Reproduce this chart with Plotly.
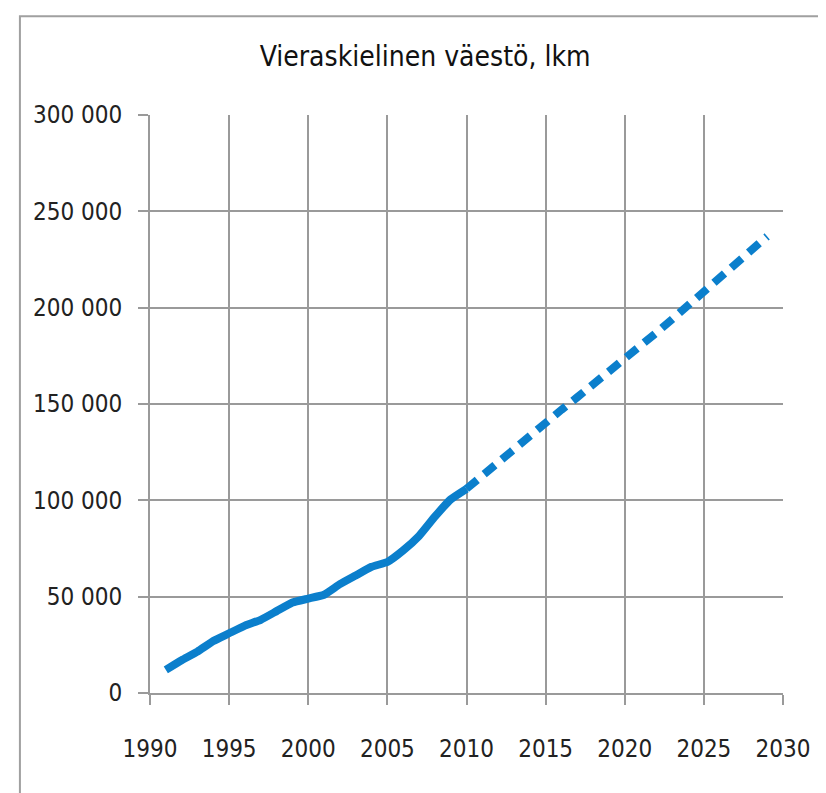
import plotly.graph_objects as go

# observed population (solid line)
years_obs = [1991, 1992, 1993, 1994, 1995, 1996, 1997, 1998, 1999, 2000,
             2001, 2002, 2003, 2004, 2005, 2006, 2007, 2008, 2009, 2010]
pop_obs = [12000, 17000, 21500, 27000, 31000, 35000, 38000, 42500, 47000, 49000,
           51000, 56500, 61000, 65500, 68000, 74000, 81500, 91500, 100500, 106000]

# projection (dashed line)
years_proj = [2010, 2011, 2012, 2013, 2014, 2015, 2016, 2017, 2018, 2019,
              2020, 2021, 2022, 2023, 2024, 2025, 2026, 2027, 2028, 2029]
pop_proj = [106000, 113000, 120000, 127000, 133500, 140000, 147000, 153500, 160000, 166500,
            173000, 180000, 187000, 194000, 201000, 208000, 215000, 222000, 229000, 237000]

x_ticks = [1990, 1995, 2000, 2005, 2010, 2015, 2020, 2025, 2030]
y_ticks = [0, 50000, 100000, 150000, 200000, 250000, 300000]

LINE_COLOR = "#0b7fcc"
GRID = "#9a9a9a"
FONT = "DejaVu Sans Condensed, Liberation Sans Narrow, sans-serif"

fig = go.Figure()
fig.add_trace(go.Scatter(x=years_obs, y=pop_obs, mode="lines",
                         line=dict(color=LINE_COLOR, width=8, shape="spline", smoothing=0.4),
                         showlegend=False))
fig.add_trace(go.Scatter(x=years_proj, y=pop_proj, mode="lines",
                         line=dict(color=LINE_COLOR, width=8, dash="14px,9px"),
                         showlegend=False))

# page body has an 8px offset, margins are set so the plot area lands on the reference
fig.update_layout(
    width=826, height=793,
    margin=dict(l=142, r=51, t=107, b=108),
    paper_bgcolor="white", plot_bgcolor="white",
    separators=", ",
    font=dict(family=FONT, size=24, color="#222222"),
    title=dict(text="Vieraskielinen väestö, lkm", x=0.505, xanchor="center",
               y=0.939, yanchor="middle", font=dict(family=FONT, size=28, color="#111111")),
    xaxis=dict(range=[1990, 2030], tickvals=x_ticks, showgrid=True, gridcolor=GRID, gridwidth=2,
               showline=True, linecolor=GRID, linewidth=2, ticks="outside", ticklen=10,
               tickcolor=GRID, tickwidth=2, ticklabelstandoff=23, zeroline=False, mirror=False),
    yaxis=dict(range=[0, 300000], tickvals=y_ticks, tickformat=",d", showgrid=True,
               gridcolor=GRID, gridwidth=2, showline=True, linecolor=GRID, linewidth=2,
               ticks="outside", ticklen=10, tickcolor=GRID, tickwidth=2,
               ticklabelstandoff=11, zeroline=False),
    shapes=[dict(type="rect", xref="paper", yref="paper", x0=-0.2055, y0=-1, x1=2, y1=1.171,
                 line=dict(color="#a0a0a0", width=2), fillcolor="rgba(0,0,0,0)", layer="below")],
)

fig.write_html("out.html")
